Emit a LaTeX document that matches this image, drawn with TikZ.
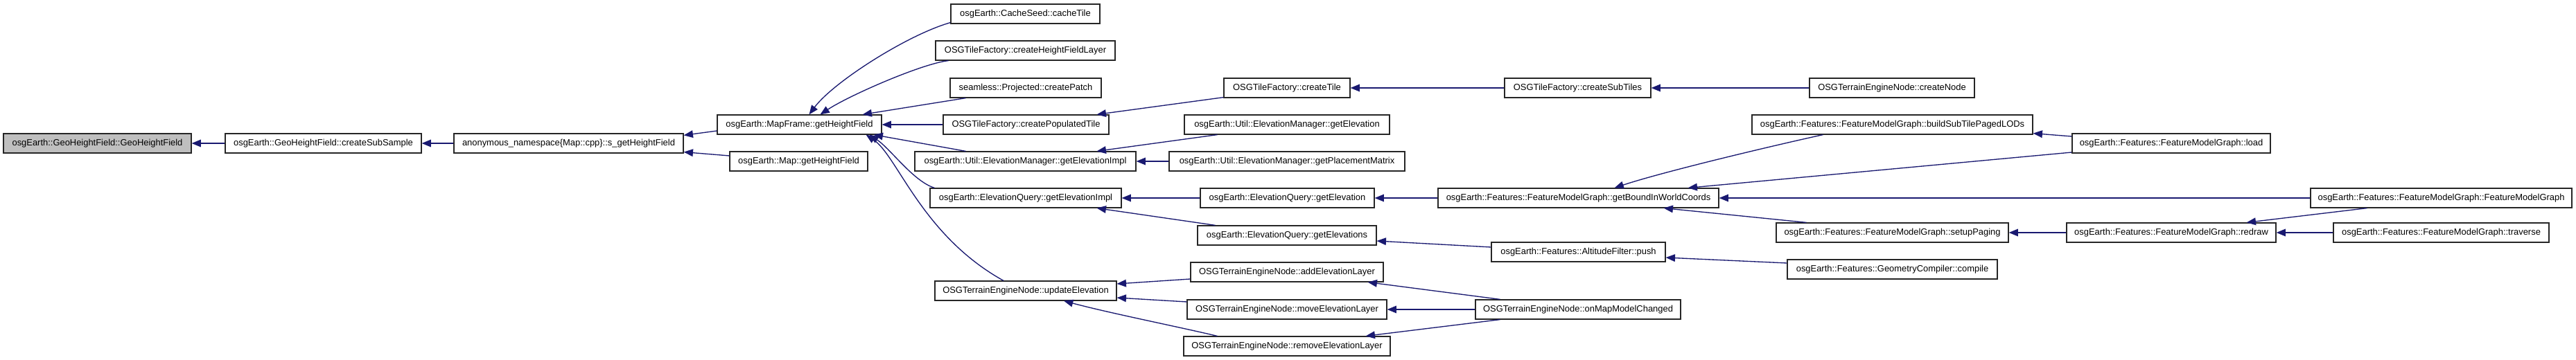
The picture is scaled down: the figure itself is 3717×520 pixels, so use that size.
\documentclass[tikz,border=0pt]{standalone}
\usepackage{fontspec}
\setmainfont{Liberation Sans}
\usetikzlibrary{arrows.meta, calc}

\begin{document}
\begin{tikzpicture}[
    x=0.75pt,
    y=-0.75pt,
    font=\fontsize{9.7}{11.6}\selectfont,
    fnbox/.style={draw=black!85, line width=0.9pt, fill=white, inner sep=0pt, minimum height=21pt},
    calls/.style={draw=edgeblue, line width=1pt, -{Triangle[length=10pt, width=8pt]}}
]

\definecolor{edgeblue}{HTML}{191970}

\useasboundingbox (0,0) rectangle (3717,520);

% Function boxes: name / centre x / centre y / width (all in pixels of the graph).
\node[fnbox, fill=black!25, minimum width=271*0.75pt] (ghf) at (140.5,207) {osgEarth::GeoHeightField::GeoHeightField};

\foreach \name/\cx/\cy/\w/\txt in {
    subsample/466.5/207/283/{osgEarth::GeoHeightField::createSubSample},
    anon/820.5/207/331/{anonymous\_namespace\{Map::cpp\}::s\_getHeightField},
    mapframe/1153.5/180/237/{osgEarth::MapFrame::getHeightField},
    mapget/1152.5/233/199/{osgEarth::Map::getHeightField},
    cachetile/1479.5/20/215/{osgEarth::CacheSeed::cacheTile},
    hflayer/1479.5/73/259/{OSGTileFactory::createHeightFieldLayer},
    patch/1480/127/218/{seamless::Projected::createPatch},
    poptile/1480.5/180/239/{OSGTileFactory::createPopulatedTile},
    emimpl/1479.5/233/319/{osgEarth::Util::ElevationManager::getElevationImpl},
    eqimpl/1480/286/276/{osgEarth::ElevationQuery::getElevationImpl},
    updelev/1480/420/262/{OSGTerrainEngineNode::updateElevation},
    createtile/1857/127/182/{OSGTileFactory::createTile},
    emget/1857/180/296/{osgEarth::Util::ElevationManager::getElevation},
    placement/1857/233/340/{osgEarth::Util::ElevationManager::getPlacementMatrix},
    eqget/1857.5/286/251/{osgEarth::ElevationQuery::getElevation},
    eqgets/1857/340/258/{osgEarth::ElevationQuery::getElevations},
    addlayer/1857/393/278/{OSGTerrainEngineNode::addElevationLayer},
    movelayer/1857/447/288/{OSGTerrainEngineNode::moveElevationLayer},
    remlayer/1857/500/298/{OSGTerrainEngineNode::removeElevationLayer},
    subtiles/2276.5/127/211/{OSGTileFactory::createSubTiles},
    boundwc/2277.5/286/405/{osgEarth::Features::FeatureModelGraph::getBoundInWorldCoords},
    push/2277.5/364/251/{osgEarth::Features::AltitudeFilter::push},
    mapchanged/2277/447/296/{OSGTerrainEngineNode::onMapModelChanged},
    createnode/2730/127/238/{OSGTerrainEngineNode::createNode},
    buildlods/2730.5/180/405/{osgEarth::Features::FeatureModelGraph::buildSubTilePagedLODs},
    paging/2730.5/336/335/{osgEarth::Features::FeatureModelGraph::setupPaging},
    compile/2730.5/389/303/{osgEarth::Features::GeometryCompiler::compile},
    load/3133/207/286/{osgEarth::Features::FeatureModelGraph::load},
    redraw/3133/336/302/{osgEarth::Features::FeatureModelGraph::redraw},
    fmg/3522.5/286/377/{osgEarth::Features::FeatureModelGraph::FeatureModelGraph},
    traverse/3522.5/336/311/{osgEarth::Features::FeatureModelGraph::traverse}%
} {
    \node[fnbox, minimum width=\w*0.75pt] (\name) at (\cx,\cy) {\txt};
}

% Calls: from caller to callee, arrow on the callee.
\draw[calls] (subsample.west) -- (ghf.east);
\draw[calls] (anon.west) -- (subsample.east);
\draw[calls] ($(mapframe.west)+(0,9)$) -- ($(anon.north east)+(0,3)$);
\draw[calls] ($(mapget.west)+(0,-8)$) -- ($(anon.south east)+(0,-2)$);

\draw[calls] ($(cachetile.south west)+(0,-2)$) .. controls (1310,50) and (1203,118) .. ($(mapframe.north)+(14,0)$);
\draw[calls] ($(hflayer.south west)+(19,0)$) .. controls (1330,92) and (1225,138) .. ($(mapframe.north)+(30,0)$);
\draw[calls] ($(patch.south west)+(23,0)$) -- ($(mapframe.north east)+(-28,0)$);
\draw[calls] (poptile.west) -- (mapframe.east);
\draw[calls] ($(emimpl.north west)+(74,0)$) -- ($(mapframe.south east)+(-12,0)$);
\draw[calls] ($(eqimpl.north west)+(7,0)$) .. controls (1318,262) and (1285,215) .. ($(mapframe.south east)+(-18,0)$);
\draw[calls] ($(updelev.north)+(-32,0)$) .. controls (1330,340) and (1295,225) .. ($(mapframe.south east)+(-23,0)$);

\draw[calls] ($(createtile.south west)+(0,-1)$) -- ($(poptile.north east)+(-18,0)$);
\draw[calls] ($(emget.south west)+(48,0)$) -- ($(emimpl.north east)+(-57,0)$);
\draw[calls] (placement.west) -- (emimpl.east);
\draw[calls] (eqget.west) -- (eqimpl.east);
\draw[calls] ($(eqgets.north west)+(26,0)$) -- ($(eqimpl.south east)+(-36,0)$);
\draw[calls] ($(addlayer.west)+(0,10)$) -- ($(updelev.east)+(0,-10)$);
\draw[calls] ($(movelayer.west)+(0,-11)$) -- ($(updelev.east)+(0,10)$);
\draw[calls] ($(remlayer.north west)+(49,0)$) .. controls (1700,472) and (1600,452) .. ($(updelev.south)+(55,0)$);

\draw[calls] (subtiles.west) -- (createtile.east);
\draw[calls] (createnode.west) -- (subtiles.east);
\draw[calls] (boundwc.west) -- (eqget.east);
\draw[calls] ($(push.west)+(0,-7)$) -- ($(eqgets.east)+(0,8)$);
\draw[calls] ($(mapchanged.north west)+(36,0)$) -- ($(addlayer.south east)+(-23,0)$);
\draw[calls] (mapchanged.west) -- (movelayer.east);
\draw[calls] ($(mapchanged.south west)+(36,0)$) -- ($(remlayer.north east)+(-36,0)$);

\draw[calls] ($(buildlods.south west)+(103,0)$) .. controls (2560,210) and (2400,248) .. ($(boundwc.north)+(52,0)$);
\draw[calls] ($(load.west)+(0,13)$) -- ($(boundwc.north east)+(-45,0)$);
\draw[calls] ($(load.west)+(0,-10)$) -- ($(buildlods.south east)+(0,-2)$);
\draw[calls] (fmg.west) -- (boundwc.east);
\draw[calls] ($(paging.north west)+(44,0)$) -- ($(boundwc.south east)+(-80,0)$);
\draw[calls] ($(compile.west)+(0,-9)$) -- ($(push.east)+(0,8)$);
\draw[calls] (redraw.west) -- (paging.east);
\draw[calls] ($(fmg.south west)+(82,0)$) -- ($(redraw.north east)+(-43,0)$);
\draw[calls] (traverse.west) -- (redraw.east);

\end{tikzpicture}
\end{document}
